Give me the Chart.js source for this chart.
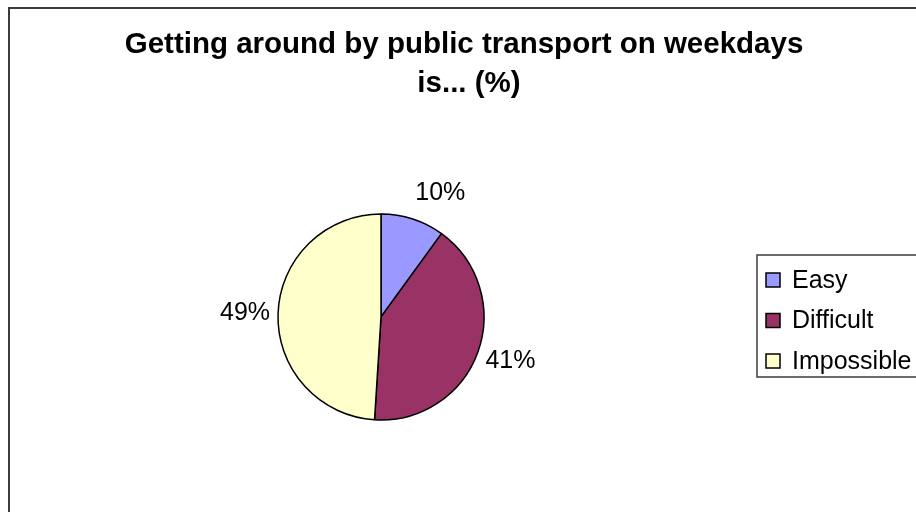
<!DOCTYPE html>
<html>
<head>
<meta charset="utf-8">
<title>Getting around by public transport on weekdays</title>
<script src="https://cdn.jsdelivr.net/npm/chart.js@4.4.1/dist/chart.umd.min.js"></script>
<style>
    body { margin: 0; background: #ffffff; }
    #wrap { width: 916px; height: 512px; }
</style>
</head>
<body>
<div id="wrap"><canvas id="pieChart" width="916" height="512"></canvas></div>
<script>
// data
const categories = ['Easy', 'Difficult', 'Impossible'];
const shares = [10, 41, 49];
const sliceColors = ['#9999FF', '#993366', '#FFFFCC'];
const titleLines = ['Getting around by public transport on weekdays', 'is... (%)'];

const FONT = "'Liberation Sans', Arial, sans-serif";

// frame, title, outside-end labels and legend, drawn the way the old Excel chart did
const excelDecor = {
    id: 'excelDecor',
    afterDraw(chart) {
        const ctx = chart.ctx;
        ctx.save();

        // outer chart border (right and bottom run off the picture)
        ctx.strokeStyle = '#3c3c3c';
        ctx.lineWidth = 2;
        ctx.strokeRect(9, 8, 1000, 600);

        // title
        ctx.fillStyle = '#000000';
        ctx.font = 'bold 29.5px ' + FONT;
        ctx.textAlign = 'center';
        ctx.textBaseline = 'alphabetic';
        ctx.fillText(titleLines[0], 464, 53);
        ctx.fillText(titleLines[1], 469, 92);

        // percentage labels outside each slice
        const meta = chart.getDatasetMeta(0);
        const total = shares.reduce((a, b) => a + b, 0);
        ctx.font = '25px ' + FONT;
        ctx.textBaseline = 'middle';
        meta.data.forEach((arc, i) => {
            const p = arc.getProps(['x', 'y', 'startAngle', 'endAngle', 'outerRadius'], true);
            const mid = (p.startAngle + p.endAngle) / 2;
            const dx = Math.cos(mid);
            const dy = Math.sin(mid);
            const text = Math.round(shares[i] / total * 100) + '%';
            const w = ctx.measureText(text).width;
            const h = 19;
            const r = p.outerRadius + 18;
            const cx = p.x + dx * r + Math.sign(dx) * w * (0.5 - 0.2 * Math.abs(dx));
            const cy = p.y + dy * r + dy * h / 2;
            ctx.fillText(text, cx, cy);
        });

        // legend
        const box = { x: 757, y: 255, h: 122 };
        ctx.strokeStyle = '#3c3c3c';
        ctx.lineWidth = 1.5;
        ctx.strokeRect(box.x, box.y, 400, box.h);
        ctx.font = '25px ' + FONT;
        ctx.textAlign = 'left';
        chart.data.labels.forEach((label, i) => {
            const y = box.y + 25 + i * 40.5;
            ctx.fillStyle = chart.data.datasets[0].backgroundColor[i];
            ctx.fillRect(box.x + 9, y - 7, 14, 14);
            ctx.strokeStyle = '#000000';
            ctx.lineWidth = 1.5;
            ctx.strokeRect(box.x + 9, y - 7, 14, 14);
            ctx.fillStyle = '#000000';
            ctx.fillText(label, box.x + 35, y + 1);
        });

        ctx.restore();
    }
};

new Chart(document.getElementById('pieChart').getContext('2d'), {
    type: 'pie',
    data: {
        labels: categories,
        datasets: [{
            data: shares,
            backgroundColor: sliceColors,
            borderColor: '#000000',
            borderWidth: 1.5,
            radius: 103
        }]
    },
    options: {
        responsive: false,
        animation: false,
        devicePixelRatio: 1,
        layout: {
            padding: { left: 200, right: 354, top: 200, bottom: 78 }
        },
        plugins: {
            legend: { display: false },
            title: { display: false },
            tooltip: { enabled: false }
        }
    },
    plugins: [excelDecor]
});
</script>
</body>
</html>
